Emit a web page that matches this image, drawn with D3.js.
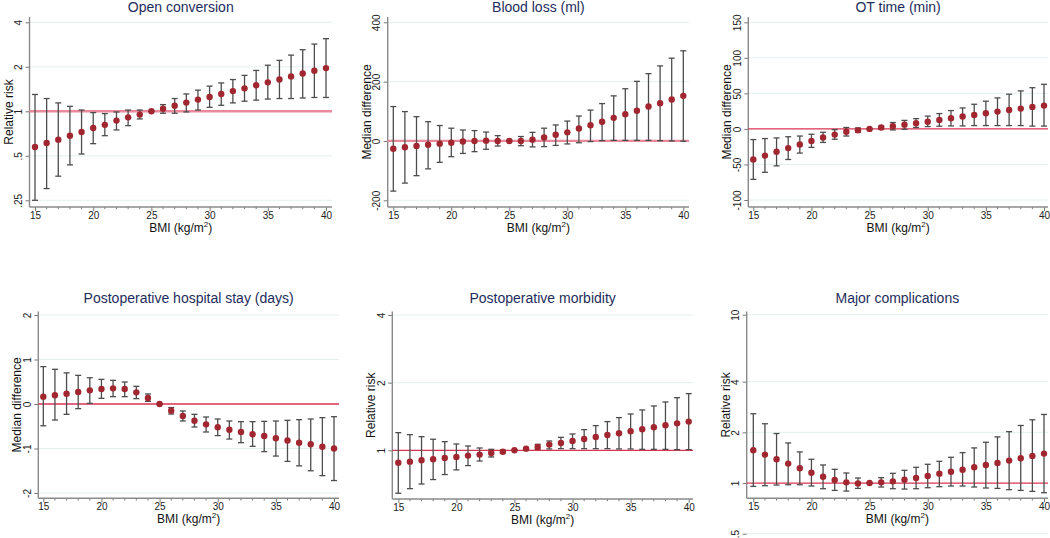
<!DOCTYPE html>
<html>
<head>
<meta charset="utf-8">
<script src="https://cdn.jsdelivr.net/npm/d3@7"></script>
<style>
  html, body { margin: 0; padding: 0; background: #ffffff; }
  svg { display: block; font-family: "Liberation Sans", Arial, Helvetica, sans-serif; }
</style>
</head>
<body>
<svg id="chart" width="1050" height="538"></svg>
<script>
// ---------- DATA ----------
const bmi = [15,16,17,18,19,20,21,22,23,24,25,26,27,28,29,30,31,32,33,34,35,36,37,38,39,40];
const bmiTicks = [15,20,25,30,35,40];

const titles = ["Open conversion","Blood loss (ml)","OT time (min)",
                "Postoperative hospital stay (days)","Postoperative morbidity","Major complications"];
const yTitles = ["Relative risk","Median difference","Median difference",
                 "Median difference","Relative risk","Relative risk"];

const openEst = [0.574,0.61,0.643,0.684,0.725,0.771,0.81,0.865,0.91,0.95,1,1.04,1.09,1.145,1.2,1.25,1.31,1.37,1.43,1.5,1.57,1.64,1.72,1.80,1.88,1.96];
const openLo  = [0.25,0.30,0.364,0.434,0.514,0.604,0.684,0.748,0.80,0.888,1,0.97,0.97,0.99,1.02,1.064,1.098,1.14,1.17,1.19,1.21,1.22,1.22,1.23,1.24,1.24];
const openHi  = [1.30,1.22,1.14,1.08,1.02,0.98,0.965,0.99,1.02,1.02,1,1.11,1.22,1.31,1.39,1.48,1.555,1.64,1.75,1.89,2.05,2.21,2.4,2.61,2.85,3.10];
const openTicks = [0.25,0.5,1,2,4];

const bloodEst = [-26,-21,-17,-13,-9,-6,-2,0,1,0,0,0,4,12,21,29,42,53,65,78,90,102,116,127,140,152];
const bloodLo  = [-169,-142,-117,-94,-72,-53,-42,-36,-28,-17,0,-16,-20,-19,-15,-10,-6,-2,1,2,2,2,2,1,0,-1];
const bloodHi  = [116,99,82,65,52,43,37,35,30,18,0,15,29,43,54,67,84,104,126,152,176,201,227,253,279,304];
const bloodTicks = [-200,0,200,400];

const otEst = [-43,-37.5,-32,-27,-22,-17,-12,-8,-4,-2,0,2,3.8,6,8,10,12.7,15,17.4,19.7,22,24.4,26.7,28.6,31,32.8];
const otLo  = [-71,-61,-52,-43,-34,-26,-19,-14.5,-10,-4.7,0,-0.5,-1.4,-0.5,2,3.3,3.8,4.2,4.2,4.7,4.7,4.7,4.7,4.7,4,4];
const otHi  = [-15,-13.6,-12.7,-11,-10,-7.5,-4.7,-1,2,1.4,0,4,9,12,14.5,18,21.6,25.8,29.5,34.7,39,43.6,48.8,53.5,58,62.8];
const otTicks = [-100,-50,0,50,100,150];

const stayEst = [0.165,0.195,0.232,0.27,0.307,0.337,0.352,0.337,0.262,0.135,0,-0.15,-0.27,-0.375,-0.457,-0.524,-0.577,-0.629,-0.68,-0.719,-0.77,-0.82,-0.869,-0.906,-0.959,-1.0];
const stayLo  = [-0.49,-0.36,-0.232,-0.105,0.015,0.127,0.165,0.165,0.12,0.06,0,-0.225,-0.382,-0.517,-0.629,-0.71,-0.787,-0.869,-0.951,-1.07,-1.17,-1.29,-1.39,-1.50,-1.61,-1.72];
const stayHi  = [0.84,0.78,0.70,0.644,0.59,0.554,0.532,0.494,0.397,0.225,0,-0.08,-0.157,-0.232,-0.292,-0.337,-0.382,-0.397,-0.397,-0.39,-0.382,-0.367,-0.352,-0.337,-0.307,-0.285];
const stayTicks = [-2,-1,0,1,2];

const morbEst = [0.881,0.89,0.903,0.912,0.925,0.934,0.947,0.957,0.973,0.986,1,1.017,1.035,1.06,1.078,1.1,1.123,1.146,1.17,1.19,1.215,1.24,1.266,1.292,1.318,1.342];
const morbLo  = [0.644,0.675,0.708,0.741,0.78,0.818,0.855,0.896,0.934,0.973,1,1.003,1.01,1.014,1.017,1.017,1.017,1.017,1.017,1.014,1.014,1.01,1.01,1.01,1.007,1.007];
const morbHi  = [1.198,1.174,1.15,1.12,1.093,1.067,1.045,1.024,1.01,1.0,1,1.027,1.063,1.1,1.142,1.182,1.236,1.288,1.342,1.398,1.451,1.512,1.575,1.641,1.715,1.787];
const morbTicks = [1,2,4];

const compEst = [1.566,1.475,1.384,1.304,1.223,1.152,1.09,1.042,1.009,0.995,1,1.009,1.023,1.047,1.071,1.101,1.137,1.168,1.2,1.24,1.28,1.316,1.359,1.403,1.449,1.496];
const compLo  = [0.955,0.964,0.973,0.977,0.977,0.96,0.925,0.904,0.896,0.929,1,0.947,0.925,0.921,0.925,0.938,0.951,0.96,0.96,0.947,0.934,0.929,0.913,0.904,0.892,0.876];
const compHi  = [2.58,2.25,1.968,1.73,1.53,1.384,1.28,1.206,1.147,1.071,1,1.076,1.142,1.19,1.24,1.292,1.346,1.422,1.516,1.617,1.747,1.88,2.02,2.197,2.375,2.555];
const compTicks = [0.5,1,2,4,10];

// ---------- LAYOUT ----------
const panels = [
  {est: openEst,  lo: openLo,  hi: openHi,  ticks: openTicks,  log: true,  ref: 1,
   ax: 29.5, right: 332, x0: 35, x1: 326, top: 17, bottom: 207, yDom: [0.25, 4], yRan: [200.3, 22.3],
   refColor: "#e8899c", refWidth: 2.4, titleY: 12},
  {est: bloodEst, lo: bloodLo, hi: bloodHi, ticks: bloodTicks, log: false, ref: 0,
   ax: 387.7, right: 689, x0: 393.3, x1: 683.3, top: 17, bottom: 207, yDom: [-200, 400], yRan: [200.3, 22.3],
   refColor: "#e8899c", refWidth: 2.2, titleY: 12},
  {est: otEst,    lo: otLo,    hi: otHi,    ticks: otTicks,    log: false, ref: 0,
   ax: 748.3, right: 1048, x0: 753.3, x1: 1044, top: 17, bottom: 207, yDom: [-100, 150], yRan: [200, 22.3],
   refColor: "#d93553", refWidth: 1.3, titleY: 12},
  {est: stayEst,  lo: stayLo,  hi: stayHi,  ticks: stayTicks,  log: false, ref: 0,
   ax: 38.3, right: 339, x0: 43.3, x1: 334, top: 311.5, bottom: 498.3, yDom: [-2, 2], yRan: [493, 315],
   refColor: "#d93553", refWidth: 1.3, titleY: 303},
  {est: morbEst,  lo: morbLo,  hi: morbHi,  ticks: morbTicks,  log: true,  ref: 1,
   ax: 392.3, right: 693, x0: 398.3, x1: 688.7, top: 311.5, bottom: 499, yDom: [1, 4], yRan: [450.3, 315],
   refColor: "#d93553", refWidth: 1.3, titleY: 303},
  {est: compEst,  lo: compLo,  hi: compHi,  ticks: compTicks,  log: true,  ref: 1,
   ax: 746.7, right: 1048, x0: 753.3, x1: 1044, top: 311.5, bottom: 498.3, yDom: [0.5, 10], yRan: [533.7, 314.7],
   refColor: "#d93553", refWidth: 1.3, titleY: 303}
];

const svg = d3.select("#chart");
const fmt = d => String(d).replace(/^0\./, ".").replace(/^-0\./, "-.");

panels.forEach((p, i) => {
  const g = svg.append("g");
  const x = d3.scaleLinear().domain([15, 40]).range([p.x0, p.x1]);
  const y = p.log ? d3.scaleLog().base(2).domain(p.yDom).range(p.yRan)
                  : d3.scaleLinear().domain(p.yDom).range(p.yRan);

  // gridlines
  g.append("g").selectAll("line").data(p.ticks.filter(t => t !== p.ref)).join("line")
    .attr("x1", p.ax).attr("x2", p.right)
    .attr("y1", d => y(d)).attr("y2", d => y(d))
    .attr("stroke", "#e4eff0").attr("stroke-width", 1);

  // y axis
  const yAxis = d3.axisLeft(y).tickValues(p.ticks).tickSize(4).tickFormat(fmt);
  const ya = g.append("g").attr("transform", `translate(${p.ax},0)`).call(yAxis);
  ya.select(".domain").remove();
  ya.selectAll(".tick line").attr("stroke", "#777").attr("stroke-width", 1);
  ya.selectAll(".tick text")
    .attr("x", null).attr("dy", null)
    .attr("transform", "rotate(-90)")
    .attr("y", -7.5).attr("x", 0)
    .attr("text-anchor", "middle")
    .attr("font-size", 10).attr("fill", "#222")
    .attr("font-family", "Liberation Sans, Arial, sans-serif");

  // x axis major + minor
  const xAxis = d3.axisBottom(x).tickValues(bmiTicks).tickSize(4).tickPadding(2);
  const xa = g.append("g").attr("transform", `translate(0,${p.bottom})`).call(xAxis);
  xa.select(".domain").remove();
  xa.selectAll(".tick line").attr("stroke", "#777").attr("stroke-width", 1);
  xa.selectAll(".tick text").attr("font-size", 10).attr("fill", "#222")
    .attr("font-family", "Liberation Sans, Arial, sans-serif")
    .attr("y", 11.5).attr("dy", null);
  g.append("g").selectAll("line").data(bmi.filter(b => !bmiTicks.includes(b))).join("line")
    .attr("x1", d => x(d)).attr("x2", d => x(d))
    .attr("y1", p.bottom).attr("y2", p.bottom + 2.2)
    .attr("stroke", "#777").attr("stroke-width", 1);

  // axis lines
  g.append("line").attr("x1", p.ax).attr("x2", p.ax).attr("y1", p.top).attr("y2", p.bottom)
    .attr("stroke", "#8a8a8a").attr("stroke-width", 1.4);
  g.append("line").attr("x1", p.ax).attr("x2", p.right).attr("y1", p.bottom).attr("y2", p.bottom)
    .attr("stroke", "#8a8a8a").attr("stroke-width", 1.4);

  // reference line
  g.append("line").attr("x1", p.ax).attr("x2", p.right)
    .attr("y1", y(p.ref)).attr("y2", y(p.ref))
    .attr("stroke", p.refColor).attr("stroke-width", p.refWidth);

  // error bars
  const rows = bmi.map((b, k) => ({b, e: p.est[k], lo: p.lo[k], hi: p.hi[k]}));
  const eb = g.append("g").attr("stroke", "#4d4d4d").attr("stroke-width", 1.3);
  eb.selectAll(".v").data(rows).join("line")
    .attr("x1", d => x(d.b)).attr("x2", d => x(d.b))
    .attr("y1", d => y(d.lo)).attr("y2", d => y(d.hi));
  eb.selectAll(".c1").data(rows).join("line")
    .attr("x1", d => x(d.b) - 3).attr("x2", d => x(d.b) + 3)
    .attr("y1", d => y(d.lo)).attr("y2", d => y(d.lo));
  eb.selectAll(".c2").data(rows).join("line")
    .attr("x1", d => x(d.b) - 3).attr("x2", d => x(d.b) + 3)
    .attr("y1", d => y(d.hi)).attr("y2", d => y(d.hi));

  // points
  g.append("g").selectAll("circle").data(rows).join("circle")
    .attr("cx", d => x(d.b)).attr("cy", d => y(d.e)).attr("r", 3.2)
    .attr("fill", "#a1262f");

  // title
  const cx = (p.ax + p.right) / 2;
  g.append("text").attr("x", cx).attr("y", p.titleY).attr("text-anchor", "middle")
    .attr("font-size", 14).attr("fill", "#1e2d5c").text(titles[i]);

  // y title
  const cy = (p.top + p.bottom) / 2;
  g.append("text").attr("transform", `translate(${p.ax - 17},${cy}) rotate(-90)`)
    .attr("text-anchor", "middle").attr("font-size", 12).attr("fill", "#111")
    .text(yTitles[i]);

  // x title with superscript
  const xt = g.append("text").attr("x", cx).attr("y", p.bottom + 24.5)
    .attr("text-anchor", "middle").attr("font-size", 12).attr("fill", "#111");
  xt.append("tspan").text("BMI (kg/m");
  xt.append("tspan").attr("dy", -5).attr("font-size", 8).text("2");
  xt.append("tspan").attr("dy", 5).text(")");
});
</script>
</body>
</html>
